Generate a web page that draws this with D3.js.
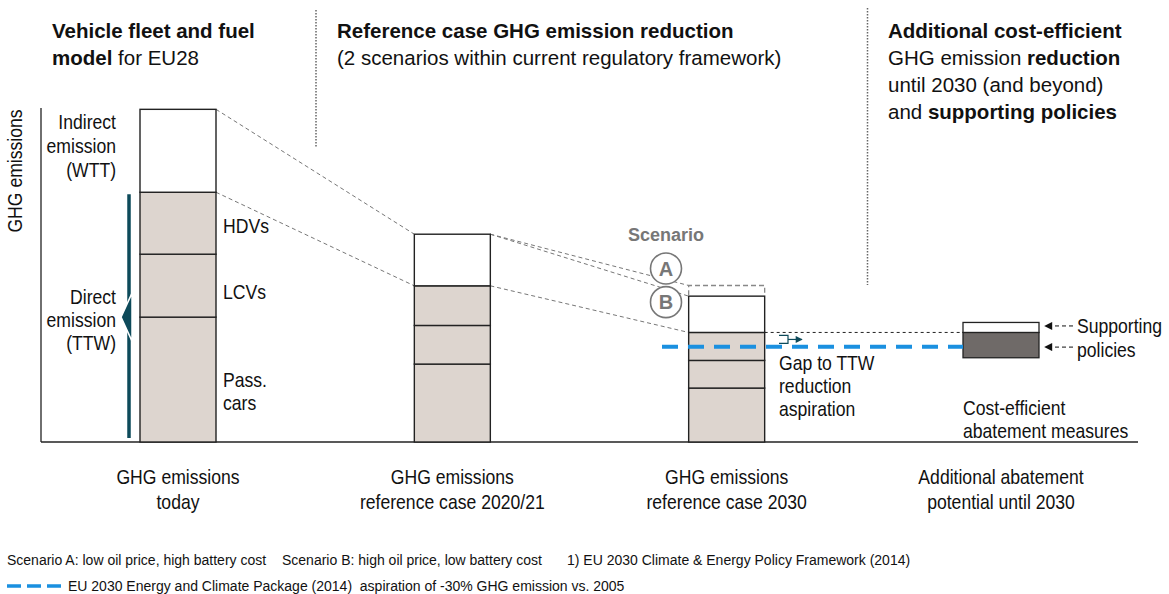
<!DOCTYPE html>
<html>
<head>
<meta charset="utf-8">
<script src="https://cdn.jsdelivr.net/npm/d3@7"></script>
<style>
  body { margin: 0; background: #fff; }
  svg { display: block; font-family: "Liberation Sans", Arial, Helvetica, sans-serif; }
</style>
</head>
<body>
<svg id="chart" width="1169" height="594"></svg>
<script>
// values are in arbitrary index units (today's total = ~100)
const categories = ["today", "ref2020", "ref2030", "additional"];
const categoryLabels = [
  ["GHG emissions", "today"],
  ["GHG emissions", "reference case 2020/21"],
  ["GHG emissions", "reference case 2030"],
  ["Additional abatement", "potential until 2030"]
];
const passCars = [37.5, 23.4, 16.2];
const lcvs = [18.9, 11.6, 8.3];
const hdvs = [18.6, 11.9, 8.4];
const wtt = [24.9, 15.5, 10.9];
const scenarioAExtra = 3.2;     // extra WTT in scenario A (2030)
const abatementBase = 25.3;     // bottom of the floating box
const costEfficient = 7.6;
const supporting = 3.0;
const aspiration = 28.6;        // -30% vs 2005

const svg = d3.select("#chart");
const baseY = 442;
const barW = 76;
const narrow = 0.88;   // the labels in the original use a condensed face

const y = d3.scaleLinear().domain([0, 100]).range([baseY, 109]);
const x = d3.scalePoint().domain(categories).range([178, 1001]);

const teal = "#0d4a5a";
const blue = "#1a90e0";
const grey = "#777";
const fillTTW = "#ddd5cf";

// arrow markers
const defs = svg.append("defs");
defs.append("marker").attr("id", "arrL").attr("viewBox", "0 0 10 10").attr("refX", 9).attr("refY", 5)
  .attr("markerWidth", 9).attr("markerHeight", 8).attr("markerUnits", "userSpaceOnUse").attr("orient", "auto")
  .append("path").attr("d", "M0,0 L10,5 L0,10 Z").attr("fill", "#111");
defs.append("marker").attr("id", "arrR").attr("viewBox", "0 0 10 10").attr("refX", 9).attr("refY", 5)
  .attr("markerWidth", 8).attr("markerHeight", 7).attr("markerUnits", "userSpaceOnUse").attr("orient", "auto")
  .append("path").attr("d", "M0,0 L10,5 L0,10 Z").attr("fill", teal);

// multi-line text, optionally squeezed horizontally
function multiText(sel, xPos, yPos, lines, opts) {
  const g = sel.append("g").attr("transform", `translate(${xPos},${yPos}) scale(${opts.sx || 1},1)`);
  const t = g.append("text").attr("x", 0).attr("y", 0)
    .attr("font-size", opts.size).attr("fill", opts.fill || "#111")
    .attr("text-anchor", opts.anchor || "start");
  lines.forEach((ln, i) => {
    const tsp = t.append("tspan").attr("x", 0).attr("dy", i === 0 ? 0 : opts.lh);
    (Array.isArray(ln) ? ln : [[ln, false]]).forEach(part => {
      tsp.append("tspan").attr("font-weight", part[1] ? "bold" : "normal").text(part[0]);
    });
  });
  return t;
}

const head = svg.append("g");
multiText(head, 52, 38, [[["Vehicle fleet and fuel", true]], [["model", true], [" for EU28", false]]], {size: 20.5, lh: 27});
multiText(head, 337, 38, [[["Reference case GHG emission reduction", true]], [["(2 scenarios within current regulatory framework)", false]]], {size: 20.5, lh: 27});
multiText(head, 888, 38, [
  [["Additional cost-efficient", true]],
  [["GHG emission ", false], ["reduction", true]],
  [["until 2030 (and beyond)", false]],
  [["and ", false], ["supporting policies", true]]
], {size: 20.5, lh: 27});

// dotted separators
svg.append("line").attr("x1", 316).attr("x2", 316).attr("y1", 10).attr("y2", 148)
  .attr("stroke", "#666").attr("stroke-width", 1.5).attr("stroke-dasharray", "1.5,1.5");
svg.append("line").attr("x1", 867.5).attr("x2", 867.5).attr("y1", 8).attr("y2", 285)
  .attr("stroke", "#666").attr("stroke-width", 1.5).attr("stroke-dasharray", "1.5,1.5");

// axes
svg.append("line").attr("x1", 41).attr("x2", 41).attr("y1", 108).attr("y2", baseY).attr("stroke", "#222").attr("stroke-width", 1.3);
svg.append("line").attr("x1", 41).attr("x2", 1138).attr("y1", baseY).attr("y2", baseY).attr("stroke", "#222").attr("stroke-width", 1.3);
svg.append("text").attr("transform", `translate(22,171) rotate(-90) scale(${narrow},1)`).attr("text-anchor", "middle")
  .attr("font-size", 20).attr("fill", "#111").text("GHG emissions");

// connectors (grey dashed)
const stackTop = i => passCars[i] + lcvs[i] + hdvs[i] + wtt[i];
const ttwTop = i => passCars[i] + lcvs[i] + hdvs[i];
const conn = svg.append("g").attr("stroke", "#777").attr("stroke-width", 1).attr("stroke-dasharray", "4,3").attr("fill", "none");
function link(i, v1, v2) {
  conn.append("line").attr("x1", x(categories[i]) + barW / 2).attr("y1", y(v1))
    .attr("x2", x(categories[i + 1]) - barW / 2).attr("y2", y(v2));
}
link(0, stackTop(0), stackTop(1));
link(0, ttwTop(0), ttwTop(1));
link(1, stackTop(1), stackTop(2) + scenarioAExtra);
link(1, stackTop(1), stackTop(2));
link(1, ttwTop(1), ttwTop(2));

// stacked bars
const segNames = ["passCars", "lcvs", "hdvs", "wtt"];
const stackData = [0, 1, 2].map(i => ({cat: categories[i], passCars: passCars[i], lcvs: lcvs[i], hdvs: hdvs[i], wtt: wtt[i]}));
const series = d3.stack().keys(segNames)(stackData);
series.forEach(s => {
  svg.append("g").selectAll("rect").data(s).enter().append("rect")
    .attr("x", d => x(d.data.cat) - barW / 2)
    .attr("y", d => y(d[1]))
    .attr("width", barW)
    .attr("height", d => y(d[0]) - y(d[1]))
    .attr("fill", s.key === "wtt" ? "#fff" : fillTTW)
    .attr("stroke", "#222").attr("stroke-width", 1.4);
});

// scenario A bracket on 2030 bar
const x3 = x(categories[2]);
svg.append("path")
  .attr("d", `M${x3 - barW / 2},${y(stackTop(2)) - 1} V${y(stackTop(2) + scenarioAExtra)} H${x3 + barW / 2} V${y(stackTop(2)) - 1}`)
  .attr("fill", "none").attr("stroke", "#888").attr("stroke-width", 1.3).attr("stroke-dasharray", "5,3");

// scenario labels
svg.append("text").attr("x", 628).attr("y", 241).attr("font-size", 18).attr("font-weight", "bold").attr("fill", grey).text("Scenario");
[["A", stackTop(2) + scenarioAExtra + 5.1], ["B", stackTop(2) - 1.8]].forEach(([lbl, v]) => {
  svg.append("circle").attr("cx", 666).attr("cy", y(v)).attr("r", 15.5).attr("fill", "#fff").attr("stroke", grey).attr("stroke-width", 1.6);
  svg.append("text").attr("x", 666).attr("y", y(v) + 7).attr("text-anchor", "middle").attr("font-size", 20)
    .attr("font-weight", "bold").attr("fill", grey).text(lbl);
});

// floating abatement box
const x4 = x(categories[3]);
svg.append("rect").attr("x", x4 - barW / 2).attr("y", y(abatementBase + costEfficient))
  .attr("width", barW).attr("height", y(abatementBase) - y(abatementBase + costEfficient))
  .attr("fill", "#6f6a68").attr("stroke", "#222").attr("stroke-width", 1.3);
svg.append("rect").attr("x", x4 - barW / 2).attr("y", y(abatementBase + costEfficient + supporting))
  .attr("width", barW).attr("height", y(abatementBase + costEfficient) - y(abatementBase + costEfficient + supporting))
  .attr("fill", "#fff").attr("stroke", "#222").attr("stroke-width", 1.3);

// black dotted line at 2030 TTW level
svg.append("line").attr("x1", x3 + barW / 2).attr("x2", x4 - barW / 2).attr("y1", y(ttwTop(2))).attr("y2", y(ttwTop(2)))
  .attr("stroke", "#222").attr("stroke-width", 1).attr("stroke-dasharray", "3,3");

// aspiration line
svg.append("line").attr("x1", 662).attr("x2", x4 - barW / 2).attr("y1", y(aspiration)).attr("y2", y(aspiration))
  .attr("stroke", blue).attr("stroke-width", 4).attr("stroke-dasharray", "16,10");

// gap arrow
const gy = y(ttwTop(2)) + 3;
svg.append("path").attr("d", `M779,${gy} H788 V${gy + 8} H779`).attr("fill", "none").attr("stroke", teal).attr("stroke-width", 1.2);
svg.append("line").attr("x1", 788).attr("x2", 802).attr("y1", gy + 4).attr("y2", gy + 4)
  .attr("stroke", teal).attr("stroke-width", 1.2).attr("marker-end", "url(#arrR)");

// supporting policies arrows
[y(abatementBase + costEfficient + supporting / 2) - 1.5, y(abatementBase + costEfficient / 2) + 2].forEach(ay => {
  svg.append("line").attr("x1", 1073).attr("x2", 1045).attr("y1", ay).attr("y2", ay)
    .attr("stroke", "#111").attr("stroke-width", 1).attr("stroke-dasharray", "4,3").attr("marker-end", "url(#arrL)");
});

// text labels
const lab = svg.append("g");
multiText(lab, 116, 129, ["Indirect", "emission", "(WTT)"], {size: 20, lh: 24, anchor: "end", sx: narrow});
multiText(lab, 116, 304, ["Direct", "emission", "(TTW)"], {size: 20, lh: 23, anchor: "end", sx: narrow});
multiText(lab, 223, 233, ["HDVs"], {size: 20, sx: narrow});
multiText(lab, 223, 299, ["LCVs"], {size: 20, sx: narrow});
multiText(lab, 223, 387, ["Pass.", "cars"], {size: 20, lh: 23, sx: narrow});
multiText(lab, 779, 370, ["Gap to TTW", "reduction", "aspiration"], {size: 20, lh: 23, sx: narrow});
multiText(lab, 1077, 333, ["Supporting", "policies"], {size: 20, lh: 24, sx: narrow});
multiText(lab, 963, 415, ["Cost-efficient", "abatement measures"], {size: 20, lh: 23, sx: narrow});

// TTW bracket
svg.append("line").attr("x1", 129).attr("x2", 129).attr("y1", y(ttwTop(0)) + 2).attr("y2", baseY - 4)
  .attr("stroke", teal).attr("stroke-width", 3.5);
const my = y(passCars[0]);
svg.append("path").attr("d", `M121,${my} L132,${my - 24} L132,${my + 24} Z`).attr("fill", teal).attr("stroke", "#fff").attr("stroke-width", 1.5);

// category labels
categories.forEach((c, i) => {
  multiText(svg, x(c), 484, categoryLabels[i], {size: 20, lh: 25, anchor: "middle", sx: narrow});
});

// footnotes
const foot = svg.append("g").attr("font-size", 14).attr("fill", "#111");
foot.append("text").attr("x", 7).attr("y", 565).text("Scenario A: low oil price, high battery cost");
foot.append("text").attr("x", 282).attr("y", 565).text("Scenario B: high oil price, low battery cost");
foot.append("text").attr("x", 567).attr("y", 565).text("1) EU 2030 Climate & Energy Policy Framework (2014)");
svg.append("line").attr("x1", 7).attr("x2", 61).attr("y1", 586).attr("y2", 586)
  .attr("stroke", blue).attr("stroke-width", 3.5).attr("stroke-dasharray", "14,6");
foot.append("text").attr("x", 68).attr("y", 591)
  .attr("xml:space", "preserve")
  .text("EU 2030 Energy and Climate Package (2014)  aspiration of -30% GHG emission vs. 2005");
</script>
</body>
</html>
